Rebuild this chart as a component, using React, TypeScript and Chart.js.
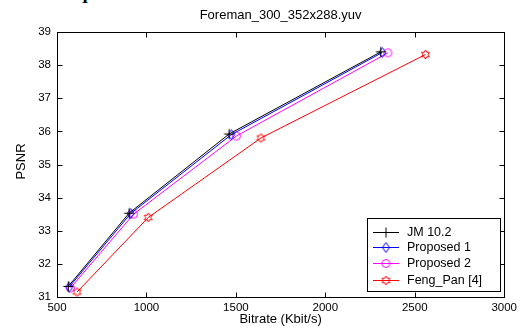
import React, { useEffect, useRef } from "react";
import { Chart, registerables } from "chart.js";

Chart.register(...registerables);

const TITLE = "Foreman_300_352x288.yuv";
const X_LABEL = "Bitrate (Kbit/s)";
const Y_LABEL = "PSNR";

const SERIES_NAMES = ["JM 10.2", "Proposed 1", "Proposed 2", "Feng_Pan [4]"];
const SERIES_COLORS = ["#000000", "#0000ff", "#ff00ff", "#ff0000"];
const SERIES_MARKERS = ["cross", "diamond", "circle", "hexagram"];

const JM_X = [563, 903, 1462, 2310];
const JM_Y = [31.32, 33.53, 35.92, 38.4];
const P1_X = [568, 912, 1474, 2318];
const P1_Y = [31.3, 33.52, 35.9, 38.38];
const P2_X = [575, 928, 1503, 2350];
const P2_Y = [31.27, 33.5, 35.86, 38.37];
const FENG_X = [612, 1010, 1640, 2560];
const FENG_Y = [31.15, 33.4, 35.8, 38.32];

const X_MIN = 500;
const X_MAX = 3000;
const X_STEP = 500;
const Y_MIN = 31;
const Y_MAX = 39;
const Y_STEP = 1;

const FONT = "'Liberation Sans', Arial, sans-serif";

function makeMarker(kind: string, color: string): HTMLCanvasElement {
  const c = document.createElement("canvas");
  c.width = 15;
  c.height = 15;
  const g = c.getContext("2d")!;
  g.strokeStyle = color;
  g.lineWidth = 1;
  const cx = 7.5;
  const cy = 7.5;
  g.beginPath();
  if (kind === "cross") {
    g.moveTo(cx - 5, cy);
    g.lineTo(cx + 5, cy);
    g.moveTo(cx, cy - 5);
    g.lineTo(cx, cy + 5);
  } else if (kind === "diamond") {
    g.moveTo(cx, cy - 5);
    g.lineTo(cx + 3.5, cy);
    g.lineTo(cx, cy + 5);
    g.lineTo(cx - 3.5, cy);
    g.closePath();
  } else if (kind === "circle") {
    g.arc(cx, cy, 4, 0, Math.PI * 2);
  } else {
    const R = 4.5;
    const r = R / Math.sqrt(3);
    for (let i = 0; i < 12; i++) {
      const a = -Math.PI / 2 + (i * Math.PI) / 6;
      const rad = i % 2 === 0 ? R : r;
      const px = cx + rad * Math.cos(a);
      const py = cy + rad * Math.sin(a);
      if (i === 0) g.moveTo(px, py);
      else g.lineTo(px, py);
    }
    g.closePath();
  }
  g.stroke();
  return c;
}

const overlayPlugin = {
  id: "matlabOverlay",
  afterDraw(chart: any) {
    const ctx = chart.ctx;
    const area = chart.chartArea;
    const xs = chart.scales.x;
    const ys = chart.scales.y;
    ctx.save();
    ctx.strokeStyle = "#000";
    ctx.lineWidth = 1;
    const L = Math.round(area.left) + 0.5;
    const R = Math.round(area.right) + 0.5;
    const T = Math.round(area.top) + 0.5;
    const B = Math.round(area.bottom) + 0.5;
    ctx.strokeRect(L, T, R - L, B - T);
    const tl = 5;
    ctx.beginPath();
    for (let v = X_MIN; v <= X_MAX; v += X_STEP) {
      const px = Math.round(xs.getPixelForValue(v)) + 0.5;
      ctx.moveTo(px, B);
      ctx.lineTo(px, B - tl);
      ctx.moveTo(px, T);
      ctx.lineTo(px, T + tl);
    }
    for (let v = Y_MIN; v <= Y_MAX; v += Y_STEP) {
      const py = Math.round(ys.getPixelForValue(v)) + 0.5;
      ctx.moveTo(L, py);
      ctx.lineTo(L + tl, py);
      ctx.moveTo(R, py);
      ctx.lineTo(R - tl, py);
    }
    ctx.stroke();

    // titles
    ctx.fillStyle = "#000";
    ctx.font = `13px ${FONT}`;
    ctx.textAlign = "center";
    ctx.textBaseline = "middle";
    const cxp = (area.left + area.right) / 2;
    ctx.fillText(TITLE, cxp, 15);
    ctx.fillText(X_LABEL, cxp, 319);
    ctx.save();
    ctx.translate(21, (area.top + area.bottom) / 2 - 3);
    ctx.rotate(-Math.PI / 2);
    ctx.fillText(Y_LABEL, 0, 0);
    ctx.restore();

    // legend
    const lx = 367.5;
    const ly = 218.5;
    const lw = 133;
    const lh = 73;
    ctx.fillStyle = "#fff";
    ctx.fillRect(lx, ly, lw, lh);
    ctx.strokeStyle = "#000";
    ctx.strokeRect(lx, ly, lw, lh);
    ctx.textAlign = "left";
    ctx.font = `12.5px ${FONT}`;
    const rows = [232, 247, 263, 280];
    chart.data.datasets.forEach((ds: any, i: number) => {
      const y = rows[i] + 0.5;
      ctx.strokeStyle = ds.borderColor;
      ctx.beginPath();
      ctx.moveTo(373, y);
      ctx.lineTo(399, y);
      ctx.stroke();
      const img = ds.pointStyle as HTMLCanvasElement;
      ctx.drawImage(img, 386 - img.width / 2, y - img.height / 2);
      ctx.fillStyle = "#000";
      ctx.fillText(ds.label, 407, rows[i] + 1);
    });
    ctx.restore();
  },
};

export default function App() {
  const ref = useRef<HTMLCanvasElement>(null);
  useEffect(() => {
    if (!ref.current) return;
    const xsArr = [JM_X, P1_X, P2_X, FENG_X];
    const ysArr = [JM_Y, P1_Y, P2_Y, FENG_Y];
    const datasets = SERIES_NAMES.map((name, i) => ({
      label: name,
      data: xsArr[i].map((x, j) => ({ x, y: ysArr[i][j] })),
      borderColor: SERIES_COLORS[i],
      backgroundColor: SERIES_COLORS[i],
      borderWidth: 1,
      pointStyle: makeMarker(SERIES_MARKERS[i], SERIES_COLORS[i]),
      pointRadius: 5,
      tension: 0,
      fill: false,
    }));
    const chart = new Chart(ref.current, {
      type: "line",
      data: { datasets },
      options: {
        responsive: false,
        animation: false,
        devicePixelRatio: 1,
        layout: { padding: { top: 32, right: 15, left: 0, bottom: 0 } },
        plugins: {
          legend: { display: false },
          title: { display: false },
          tooltip: { enabled: false },
        },
        scales: {
          x: {
            type: "linear",
            min: X_MIN,
            max: X_MAX,
            afterFit: (s: any) => {
              s.height = 36;
            },
            grid: { display: false, drawTicks: false },
            border: { display: false },
            ticks: {
              stepSize: X_STEP,
              padding: 4,
              maxRotation: 0,
              color: "#000",
              font: { family: FONT, size: 11.5 },
              callback: (v: any) => String(v),
            },
          },
          y: {
            type: "linear",
            min: Y_MIN,
            max: Y_MAX,
            afterFit: (s: any) => {
              s.width = 57;
            },
            grid: { display: false, drawTicks: false },
            border: { display: false },
            ticks: {
              stepSize: Y_STEP,
              padding: 6,
              color: "#000",
              font: { family: FONT, size: 11.5 },
              callback: (v: any) => String(v),
            },
          },
        },
      },
      plugins: [overlayPlugin],
    });
    return () => chart.destroy();
  }, []);
  return (
    <div style={{ position: "absolute", left: 0, top: 0, width: 521, height: 333, background: "#fff", overflow: "hidden" }}>
      <div
        style={{
          position: "absolute",
          right: 521 - 134,
          top: -17,
          fontFamily: "'Liberation Serif', serif",
          fontWeight: "bold",
          fontSize: 19,
          lineHeight: "19px",
          whiteSpace: "nowrap",
          color: "#000",
        }}
      >
        ence sequence
      </div>
      <canvas ref={ref} width={521} height={333} style={{ position: "absolute", left: 0, top: 0, width: 521, height: 333 }} />
    </div>
  );
}
